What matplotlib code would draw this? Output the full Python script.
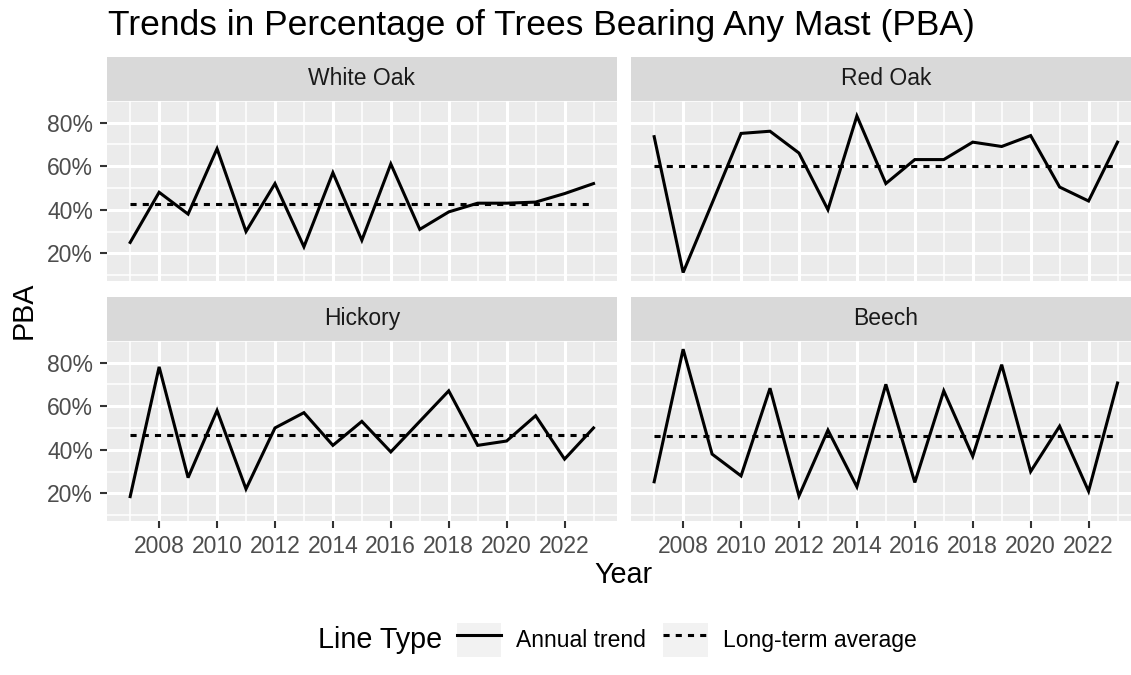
import numpy as np
import matplotlib
matplotlib.use("Agg")
import matplotlib.pyplot as plt
from matplotlib.lines import Line2D
from matplotlib.patches import Rectangle
from matplotlib.legend_handler import HandlerLine2D
from matplotlib.ticker import FuncFormatter

plt.rcParams['font.family'] = ['Liberation Sans', 'DejaVu Sans']

# data
years = list(range(2007, 2024))
species = ["White Oak", "Red Oak", "Hickory", "Beech"]
white_oak = [25, 48, 38, 68, 30, 52, 23, 57, 26, 61, 31, 39, 43, 43, 43.5, 47.4, 52]
red_oak = [73.5, 11.2, 43, 75, 76, 66, 40, 83, 52, 63, 63, 71, 69, 74, 50.4, 44, 71]
hickory = [18.5, 78, 27.2, 58, 22, 50, 57, 42, 53, 39, 53, 67, 42, 44, 55.6, 35.7, 50]
beech = [25.3, 86.1, 38, 28, 68.2, 18.8, 49, 23, 70, 25, 67, 37, 79, 30, 50.8, 21, 70.6]
long_term = [42.8, 60.2, 46.6, 46.3]
series = [white_oak, red_oak, hickory, beech]

W, H = 1131, 675
fig = plt.figure(figsize=(W / 100, H / 100), dpi=100)

def fx(x):
    return x / W

def fy(y):
    return 1 - y / H

panel_w, panel_h, strip_h = 509.7, 180, 44
lefts = [107, 631]
tops = [100.7, 340.7]

all_vals = np.concatenate([np.array(s) for s in series])
lo, hi = all_vals.min(), all_vals.max()
yspan = hi - lo
xspan = years[-1] - years[0]

axes = []
for i, name in enumerate(species):
    row, col = divmod(i, 2)
    l, t = lefts[col], tops[row]
    ax = fig.add_axes([fx(l), fy(t + panel_h), panel_w / W, panel_h / H])
    ax.set_facecolor("#EBEBEB")
    for sp in ax.spines.values():
        sp.set_visible(False)
    ax.set_xlim(years[0] - 0.05 * xspan, years[-1] + 0.05 * xspan)
    ax.set_ylim(lo - 0.05 * yspan, hi + 0.05 * yspan)
    ax.set_xticks(range(2008, 2023, 2))
    ax.set_xticks(range(2007, 2024, 2), minor=True)
    ax.set_yticks([20, 40, 60, 80])
    ax.set_yticks([10, 30, 50, 70, 90], minor=True)
    ax.yaxis.set_major_formatter(FuncFormatter(lambda v, p: f"{v:.0f}%"))
    ax.grid(which="major", color="white", lw=2.2)
    ax.grid(which="minor", color="white", lw=1.1)
    ax.set_axisbelow(True)
    ax.tick_params(which="major", length=5, width=1.5, color="#333333",
                   labelsize=16.5, labelcolor="#4D4D4D", pad=5)
    ax.tick_params(which="minor", length=0)
    if col == 1:
        ax.tick_params(axis="y", which="major", length=0, labelleft=False)
    if row == 0:
        ax.tick_params(axis="x", which="major", length=0, labelbottom=False)

    ax.plot(years, series[i], color="black", lw=2.2, label="Annual trend",
            solid_joinstyle="miter")
    ax.plot(years, [long_term[i]] * len(years), color="black", lw=2.2,
            dashes=(2.0, 2.0), label="Long-term average")
    axes.append(ax)

    sax = fig.add_axes([fx(l), fy(t), panel_w / W, strip_h / H])
    sax.set_facecolor("#D9D9D9")
    sax.set_xticks([])
    sax.set_yticks([])
    for sp in sax.spines.values():
        sp.set_visible(False)
    sax.text(0.5, 0.5, name, transform=sax.transAxes, ha="center", va="center",
             fontsize=16.5, color="#1A1A1A")

fig.text(fx(108), fy(35), "Trends in Percentage of Trees Bearing Any Mast (PBA)",
         fontsize=25.5, va="baseline", ha="left")
fig.text(fx(623.8), fy(583), "Year", fontsize=20.7, ha="center", va="baseline")
fig.text(fx(24), fy(310), "PBA", fontsize=20.7, ha="center", va="center",
         rotation=90)


class KeyBox(HandlerLine2D):
    def create_artists(self, legend, orig_handle, xdescent, ydescent, width,
                       height, fontsize, trans):
        box = Rectangle((-xdescent, -ydescent), width, height,
                        facecolor="#F2F2F2", edgecolor="none", transform=trans)
        arts = super().create_artists(legend, orig_handle, xdescent, ydescent,
                                      width, height, fontsize, trans)
        return [box] + arts


fig.text(fx(318), fy(640), "Line Type", fontsize=20.7, ha="left", va="center")
handles, labels = axes[0].get_legend_handles_labels()
fig.legend(handles, labels, loc="center left", bbox_to_anchor=(fx(457), fy(640)),
           ncol=2, frameon=False, fontsize=16.5, borderpad=0, borderaxespad=0,
           handlelength=1.94, handleheight=1.94, handletextpad=0.65,
           columnspacing=0.75, handler_map={Line2D: KeyBox(marker_pad=0.4)})

fig.savefig("out.png", dpi=100)
